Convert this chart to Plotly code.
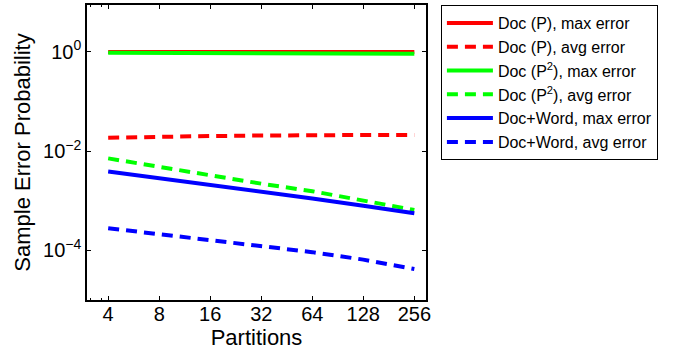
import plotly.graph_objects as go

partitions = [4, 8, 16, 32, 64, 128, 256]
x_tick_labels = ["4", "8", "16", "32", "64", "128", "256"]

doc_p_max = [0.98, 0.98, 0.98, 0.98, 0.98, 0.98, 0.98]
doc_p_avg = [0.0185, 0.0195, 0.0200, 0.0205, 0.0210, 0.0210, 0.0210]
doc_p2_max = [0.95, 0.95, 0.94, 0.94, 0.93, 0.92, 0.91]
doc_p2_avg = [7.1e-3, 4.8e-3, 3.2e-3, 2.2e-3, 1.55e-3, 1.0e-3, 6.5e-4]
dw_max = [3.86e-3, 2.84e-3, 2.09e-3, 1.53e-3, 1.11e-3, 7.9e-4, 5.6e-4]
dw_avg = [2.79e-4, 2.11e-4, 1.58e-4, 1.21e-4, 9.2e-5, 6.5e-5, 4.2e-5]

y_tick_vals = [1e0, 1e-2, 1e-4]
y_tick_labels = ["10<sup>0</sup>", "10<sup>\u22122</sup>", "10<sup>\u22124</sup>"]

series = [
    ("Doc (P), max error", doc_p_max, "#FF0000", "solid"),
    ("Doc (P), avg error", doc_p_avg, "#FF0000", "11px,7px"),
    ("Doc (P<sup>2</sup>), max error", doc_p2_max, "#00FF00", "solid"),
    ("Doc (P<sup>2</sup>), avg error", doc_p2_avg, "#00FF00", "11px,7px"),
    ("Doc+Word, max error", dw_max, "#0000FF", "solid"),
    ("Doc+Word, avg error", dw_avg, "#0000FF", "11px,7px"),
]

fig = go.Figure()
for i, (name, vals, color, dash) in enumerate(series):
    fig.add_trace(go.Scatter(
        x=partitions, y=vals, mode="lines", name=name,
        line=dict(color=color, width=4, dash=dash),
    ))

font = "Liberation Sans, Arial, sans-serif"
fig.update_layout(
    width=688, height=356,
    margin=dict(l=87, r=262, t=3, b=56),
    paper_bgcolor="white", plot_bgcolor="white",
    font=dict(family=font, color="black", size=20),
    showlegend=True,
    legend=dict(
        x=1.044, y=1.0, xanchor="left", yanchor="top",
        bordercolor="black", borderwidth=1,
        font=dict(size=16, family=font),
        itemwidth=46,
        bgcolor="white",
    ),
    xaxis=dict(
        type="log", range=[0.4771, 2.4771],
        tickvals=partitions, ticktext=x_tick_labels,
        ticks="inside", ticklen=4, tickcolor="black",
        showline=True, linecolor="black", linewidth=1.5, mirror="ticks",
        showgrid=False, zeroline=False,
        tickfont=dict(size=20),
        ticklabelstandoff=-5,
        title=dict(text="Partitions", font=dict(size=22), standoff=0),
        minor=dict(tickvals=[3.16, 3.63], ticks="inside", ticklen=2, tickcolor="black"),
    ),
    yaxis=dict(
        type="log", range=[-5, 0.94],
        tickvals=y_tick_vals, ticktext=y_tick_labels,
        ticks="inside", ticklen=4, tickcolor="black",
        showline=True, linecolor="black", linewidth=1.5, mirror="ticks",
        showgrid=False, zeroline=False,
        tickfont=dict(size=20),
        title=dict(text="Sample Error Probability", font=dict(size=22), standoff=6),
    ),
)

fig.write_html("out.html", config={"displayModeBar": False},
               post_script="document.body.style.margin='0';")
